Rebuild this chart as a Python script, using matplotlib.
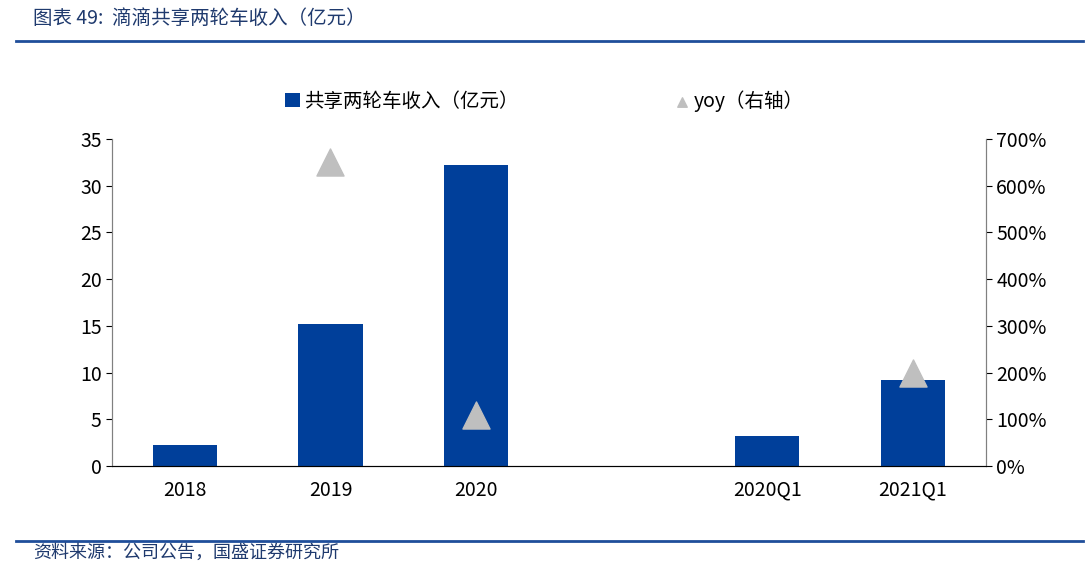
import matplotlib
matplotlib.use("Agg")
import matplotlib.pyplot as plt
import numpy as np
from matplotlib.ticker import FuncFormatter

plt.rcParams['font.family'] = ['Noto Sans CJK SC', 'DejaVu Sans']

categories = ["2018", "2019", "2020", "", "2020Q1", "2021Q1"]
revenue = [2.2, 15.2, 32.2, np.nan, 3.2, 9.2]
yoy = [np.nan, 6.5, 1.1, np.nan, np.nan, 2.0]

fig = plt.figure(figsize=(10.88, 5.69), dpi=100)
ax = fig.add_axes([0.103, 0.181, 0.803, 0.575])
ax2 = ax.twinx()
x = np.arange(len(categories))
ax.bar(x, revenue, width=0.44, color='#003F9A', label='共享两轮车收入（亿元）', zorder=2)
ax2.scatter(x, yoy, marker='^', s=380, color='#BFBFBF', label='yoy（右轴）', zorder=3)

ax.set_xlim(-0.5, len(categories) - 0.5)
ax.set_ylim(0, 35)
ax.set_yticks(range(0, 36, 5))
ax2.set_ylim(0, 7)
ax2.set_yticks(np.arange(0, 7.01, 1))
ax2.yaxis.set_major_formatter(FuncFormatter(lambda v, p: f"{v*100:.0f}%"))
ax.set_xticks(x)
ax.set_xticklabels(categories)
ax.tick_params(axis='x', length=0, labelsize=14, pad=10)
ax.tick_params(axis='y', labelsize=14, direction='out', length=4)
ax2.tick_params(axis='y', labelsize=14, direction='out', length=4)
for a in (ax, ax2):
    a.spines['top'].set_visible(False)
    a.spines['left'].set_color('#808080')
    a.spines['right'].set_color('#808080')
ax.spines['bottom'].set_color('#404040')

h1, l1 = ax.get_legend_handles_labels()
h2, l2 = ax2.get_legend_handles_labels()
fig.legend(h1 + h2, l1 + l2, loc='center', bbox_to_anchor=(0.5, 0.822), ncol=2,
           frameon=False, fontsize=14, columnspacing=8, handlelength=0.8,
           handletextpad=0.2, markerscale=0.35)

fig.text(0.03, 0.968, "图表 49:  滴滴共享两轮车收入（亿元）", fontsize=14, style='italic',
         color='#1F3A6E', va='center')
fig.add_artist(plt.Line2D([0.015, 0.995], [0.928, 0.928], color='#1F4E9A', lw=2))
fig.add_artist(plt.Line2D([0.015, 0.995], [0.05, 0.05], color='#1F4E9A', lw=2))
fig.text(0.03, 0.028, "资料来源：公司公告，国盛证券研究所", fontsize=13, style='italic',
         color='#1F3A6E', va='center')

fig.savefig("out.png", dpi=100)
